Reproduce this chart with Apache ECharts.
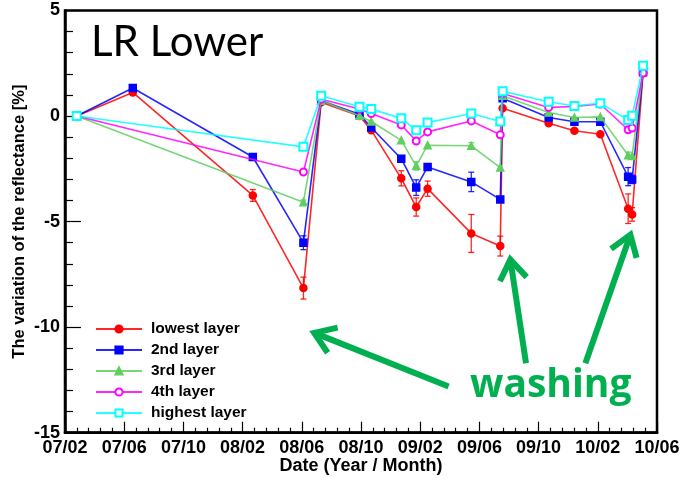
<!DOCTYPE html>
<html>
<head>
<meta charset="utf-8">
<script src="https://cdn.jsdelivr.net/npm/echarts@6/dist/echarts.min.js"></script>
<style>
  html, body { margin: 0; padding: 0; background: #fff; }
  #chart { width: 681px; height: 478px; }
</style>
</head>
<body>
<div id="chart"></div>
<script>
// Measurement dates, counted in months from 2007/02
const months = [0.79, 4.58, 12.69, 16.11, 17.31, 19.90, 20.69, 22.72, 23.73, 24.50, 27.45, 29.41, 29.57, 32.68, 34.42, 36.17, 38.05, 38.32, 39.06];
const tickLabels = ['07/02', '07/06', '07/10', '08/02', '08/06', '08/10', '09/02', '09/06', '09/10', '10/02', '10/06'];

// Reflectance variation [%] per layer (null = not measured)
const lowest  = [0, 1.12, -3.76, -8.15, 0.65, 0.00, -0.67, -2.95, -4.31, -3.44, -5.56, -6.16, 0.37, -0.34, -0.70, -0.86, -4.39, -4.66, 2.04];
const second  = [0, 1.33, -1.94, -6.00, 0.72, 0.09, -0.54, -2.02, -3.39, -2.41, -3.12, -3.95, 0.84, -0.07, -0.27, -0.27, -2.87, -3.00, 2.07];
const third   = [0, null, null, -4.08, 0.72, 0.01, -0.26, -1.15, -2.36, -1.38, -1.41, -2.44, 0.96, 0.17, -0.07, -0.04, -1.86, -1.89, 2.15];
const fourth  = [0, null, null, -2.65, 0.80, 0.33, 0.12, -0.42, -1.18, -0.75, -0.23, -0.89, 1.07, 0.41, 0.45, 0.57, -0.65, -0.57, 2.04];
const highest = [0, null, null, -1.46, 0.96, 0.44, 0.33, -0.11, -0.67, -0.31, 0.12, -0.26, 1.17, 0.68, 0.48, 0.61, -0.19, 0.01, 2.38];

// Uncertainties [%]
const lowestErr  = [0, 0, 0.28, 0.52, 0, 0, 0, 0.36, 0.43, 0.36, 0.90, 0.47, 0, 0, 0, 0, 0.70, 0.32, 0];
const secondErr  = [0, 0, 0, 0.33, 0, 0, 0, 0, 0.37, 0, 0.46, 0, 0, 0, 0, 0, 0.43, 0.20, 0];
const thirdErr   = [0, 0, 0, 0.10, 0, 0, 0, 0, 0.20, 0, 0.15, 0, 0, 0, 0, 0, 0.15, 0, 0];
const fourthErr  = [0, 0, 0, 0, 0, 0, 0, 0, 0, 0, 0, 0, 0, 0, 0, 0, 0, 0, 0];
const highestErr = [0, 0, 0, 0, 0, 0, 0, 0, 0, 0, 0, 0, 0, 0, 0, 0, 0, 0, 0];

// Washing annotations: [tailMonth, tailValue, tipMonth, tipValue]
const washArrows = [
  [25.92, -12.81, 16.84, -10.27],
  [31.15, -11.71, 30.09, -6.80],
  [35.16, -11.71, 38.20, -5.62]
];

const layers = [
  { name: 'lowest layer',  values: lowest,  errors: lowestErr,  color: '#ff0000', symbol: 'circle',      size: 7 },
  { name: '2nd layer',     values: second,  errors: secondErr,  color: '#0000ff', symbol: 'rect',        size: 7 },
  { name: '3rd layer',     values: third,   errors: thirdErr,   color: '#5fcf5f', symbol: 'triangle',    size: 7 },
  { name: '4th layer',     values: fourth,  errors: fourthErr,  color: '#ff00ff', symbol: 'emptyCircle', size: 7 },
  { name: 'highest layer', values: highest, errors: highestErr, color: '#00ffff', symbol: 'emptyRect',   size: 8 }
];

const FONT = '"Liberation Sans", Arial, sans-serif';
const WASH_GREEN = '#00b050';

function points(values) {
  const out = [];
  values.forEach((v, i) => { if (v !== null) out.push([months[i], v]); });
  return out;
}
function errPoints(values, errors) {
  const out = [];
  values.forEach((v, i) => { if (v !== null && errors[i] > 0) out.push([months[i], v, errors[i]]); });
  return out;
}

const series = [];
layers.forEach((L, k) => {
  series.push({
    type: 'custom',
    name: L.name + ' errors',
    z: 2 + k,
    silent: true,
    encode: { x: 0, y: 1 },
    data: errPoints(L.values, L.errors),
    renderItem: function (params, api) {
      const x = api.value(0), y = api.value(1), e = api.value(2);
      const top = api.coord([x, y + e]);
      const bot = api.coord([x, y - e]);
      const st = { stroke: L.color, lineWidth: 1.3, opacity: 0.85 };
      return {
        type: 'group',
        children: [
          { type: 'line', shape: { x1: top[0], y1: top[1], x2: bot[0], y2: bot[1] }, style: st },
          { type: 'line', shape: { x1: top[0] - 3, y1: top[1], x2: top[0] + 3, y2: top[1] }, style: st },
          { type: 'line', shape: { x1: bot[0] - 3, y1: bot[1], x2: bot[0] + 3, y2: bot[1] }, style: st }
        ]
      };
    }
  });
  series.push({
    type: 'line',
    name: L.name,
    z: 2 + k,
    data: points(L.values),
    symbol: L.symbol,
    symbolSize: L.size,
    showAllSymbol: true,
    lineStyle: { color: L.color, width: 1.6, opacity: 0.85 },
    itemStyle: { color: L.color, borderColor: L.color, borderWidth: 1.5 },
    emphasis: { disabled: true },
    animation: false
  });
});

// Green arrows pointing at the washing dates
series.push({
  type: 'custom',
  name: 'washing',
  z: 20,
  silent: true,
  encode: { x: [0, 2], y: [1, 3] },
  data: washArrows,
  renderItem: function (params, api) {
    const a = api.coord([api.value(0), api.value(1)]);
    const b = api.coord([api.value(2), api.value(3)]);
    const ang = Math.atan2(b[1] - a[1], b[0] - a[0]);
    const len = 24, th = 0.6;
    const w1 = [b[0] - len * Math.cos(ang - th), b[1] - len * Math.sin(ang - th)];
    const w2 = [b[0] - len * Math.cos(ang + th), b[1] - len * Math.sin(ang + th)];
    const st = { stroke: WASH_GREEN, lineWidth: 6, fill: null, lineJoin: 'miter' };
    return {
      type: 'group',
      children: [
        { type: 'line', shape: { x1: a[0], y1: a[1], x2: b[0], y2: b[1] }, style: st },
        { type: 'polyline', shape: { points: [w1, b, w2] }, style: st }
      ]
    };
  }
});

const chart = echarts.init(document.getElementById('chart'), null, { renderer: 'canvas' });
chart.setOption({
  animation: false,
  backgroundColor: '#fff',
  title: {
    text: 'LR Lower',
    left: 86,
    top: 16,
    textStyle: { fontFamily: 'Lato, "Open Sans", sans-serif', fontSize: 42, fontWeight: 'normal', color: '#000' }
  },
  legend: {
    data: layers.map(L => L.name),
    orient: 'vertical',
    left: 90,
    top: 316,
    itemWidth: 46,
    itemHeight: 9,
    itemGap: 5,
    selectedMode: false,
    textStyle: { fontFamily: FONT, fontSize: 15.5, fontWeight: 'bold', color: '#000', lineHeight: 14, padding: [0, 0, 0, 4] }
  },
  grid: {
    left: 65, right: 24, top: 10.5, bottom: 45.3,
    outerBoundsMode: 'none',
    containLabel: false,
    show: true, borderColor: '#000', borderWidth: 2.5, backgroundColor: 'transparent'
  },
  xAxis: {
    type: 'value',
    min: 0, max: 40, interval: 4,
    name: 'Date (Year / Month)',
    nameLocation: 'middle',
    nameGap: 24,
    nameMoveOverlap: false,
    nameTextStyle: { fontFamily: FONT, fontSize: 18, fontWeight: 'bold', color: '#000' },
    axisLine: { onZero: false, lineStyle: { color: '#000', width: 2.5 } },
    axisTick: { inside: true, length: 11, lineStyle: { color: '#000', width: 1.2 } },
    minorTick: { show: true, splitNumber: 5, length: 5, lineStyle: { color: '#000', width: 1.2 } },
    splitLine: { show: false },
    axisLabel: {
      fontFamily: FONT, fontSize: 18, fontWeight: 'bold', color: '#000', margin: 6,
      formatter: v => tickLabels[Math.round(v / 4)]
    }
  },
  yAxis: {
    type: 'value',
    min: -15, max: 5, interval: 5,
    name: 'The variation of the reflectance [%]',
    nameLocation: 'middle',
    nameRotate: 90,
    nameGap: 37,
    nameMoveOverlap: false,
    nameTextStyle: { fontFamily: FONT, fontSize: 16.5, fontWeight: 'bold', color: '#000' },
    axisLine: { onZero: false, lineStyle: { color: '#000', width: 2.5 } },
    axisTick: { inside: true, length: 16, lineStyle: { color: '#000', width: 1.2 } },
    minorTick: { show: true, splitNumber: 5, length: 8, lineStyle: { color: '#000', width: 1.2 } },
    splitLine: { show: false },
    axisLabel: { fontFamily: FONT, fontSize: 18, fontWeight: 'bold', color: '#000', margin: 5 }
  },
  graphic: [{
    type: 'text',
    left: 470,
    top: 366,
    z: 30,
    style: { text: 'washing', font: 'bold 39px "Open Sans", sans-serif', fill: WASH_GREEN }
  }],
  series: series
});
</script>
</body>
</html>
